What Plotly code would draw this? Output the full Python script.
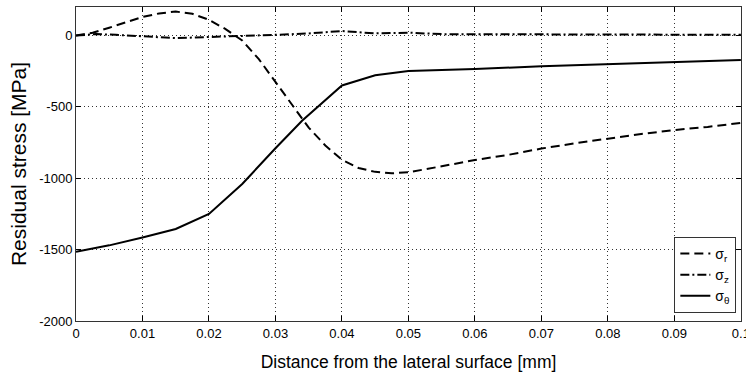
import plotly.graph_objects as go

x_r = [0, 0.0025, 0.005, 0.0075, 0.01, 0.0125, 0.015, 0.0175, 0.02, 0.0225, 0.025,
       0.0275, 0.03, 0.0325, 0.035, 0.0375, 0.04, 0.0425, 0.045, 0.0475, 0.05,
       0.055, 0.06, 0.065, 0.07, 0.075, 0.08, 0.085, 0.09, 0.095, 0.1]
sigma_r = [0, 20, 55, 95, 130, 155, 168, 152, 110, 45, -35,
           -165, -325, -480, -645, -770, -870, -928, -955, -965, -958,
           -916, -872, -836, -792, -755, -722, -690, -662, -640, -612]

x_z = [0, 0.003, 0.006, 0.01, 0.015, 0.02, 0.025, 0.03, 0.035, 0.04, 0.045,
       0.05, 0.055, 0.06, 0.07, 0.08, 0.09, 0.1]
sigma_z = [0, 10, 5, -5, -18, -10, -5, 5, 15, 32, 15, 20, 10, 10, 8, 6, 5, 5]

x_t = [0, 0.005, 0.01, 0.015, 0.02, 0.025, 0.03, 0.034, 0.04, 0.045, 0.05,
       0.06, 0.07, 0.08, 0.09, 0.1]
sigma_t = [-1515, -1470, -1415, -1355, -1250, -1040, -790, -597, -350, -278, -248,
           -235, -215, -200, -186, -172]

x_ticks = [0, 0.01, 0.02, 0.03, 0.04, 0.05, 0.06, 0.07, 0.08, 0.09, 0.1]
x_tick_labels = ["0", "0.01", "0.02", "0.03", "0.04", "0.05", "0.06", "0.07", "0.08", "0.09", "0.1"]
y_ticks = [-2000, -1500, -1000, -500, 0]
y_tick_labels = ["-2000", "-1500", "-1000", "-500", "0"]

fig = go.Figure()
fig.add_trace(go.Scatter(x=x_r, y=sigma_r, mode="lines", name="σ<sub>r</sub>",
                         line=dict(color="black", width=2, dash="9px,5px")))
fig.add_trace(go.Scatter(x=x_z, y=sigma_z, mode="lines", name="σ<sub>z</sub>",
                         line=dict(color="black", width=2, dash="9px,3px,2px,3px")))
fig.add_trace(go.Scatter(x=x_t, y=sigma_t, mode="lines", name="σ<sub>θ</sub>",
                         line=dict(color="black", width=2)))

tickfont = dict(family="Liberation Sans Narrow, Arial Narrow, Liberation Sans, sans-serif", size=13, color="black")

fig.update_layout(
    width=746, height=374,
    margin=dict(l=76, r=5, t=7, b=53),
    paper_bgcolor="white", plot_bgcolor="white",
    showlegend=True,
    legend=dict(x=0.993, xanchor="right", y=0.268, yanchor="top",
                bordercolor="#333333", borderwidth=1, bgcolor="white",
                font=dict(family="Liberation Sans, Arial, sans-serif", size=14, color="black"),
                tracegroupgap=0, itemwidth=30),
    font=dict(family="Liberation Sans, Arial, sans-serif", color="black"),
)
fig.update_xaxes(range=[0, 0.10002], tickvals=x_ticks, ticktext=x_tick_labels,
                 tickfont=tickfont, ticks="inside", ticklen=5, tickcolor="black",
                 ticklabeloverflow="allow", automargin=False,
                 showline=True, linecolor="#333333", linewidth=1, mirror="ticks",
                 showgrid=True, gridcolor="#333333", gridwidth=1, griddash="1px,3px",
                 zeroline=False,
                 title=dict(text="Distance from the lateral surface [mm]",
                            font=dict(family="Liberation Sans, Arial, sans-serif", size=17.5, color="black"),
                            standoff=16))
fig.update_yaxes(range=[-2000, 200], tickvals=y_ticks, ticktext=y_tick_labels,
                 tickfont=tickfont, ticks="inside", ticklen=5, tickcolor="black",
                 automargin=False,
                 showline=True, linecolor="#333333", linewidth=1, mirror="ticks",
                 showgrid=True, gridcolor="#333333", gridwidth=1, griddash="1px,3px",
                 zeroline=False,
                 title=dict(text="Residual stress [MPa]",
                            font=dict(family="Liberation Sans, Arial, sans-serif", size=21, color="black"),
                            standoff=6))

fig.write_html("out.html")
